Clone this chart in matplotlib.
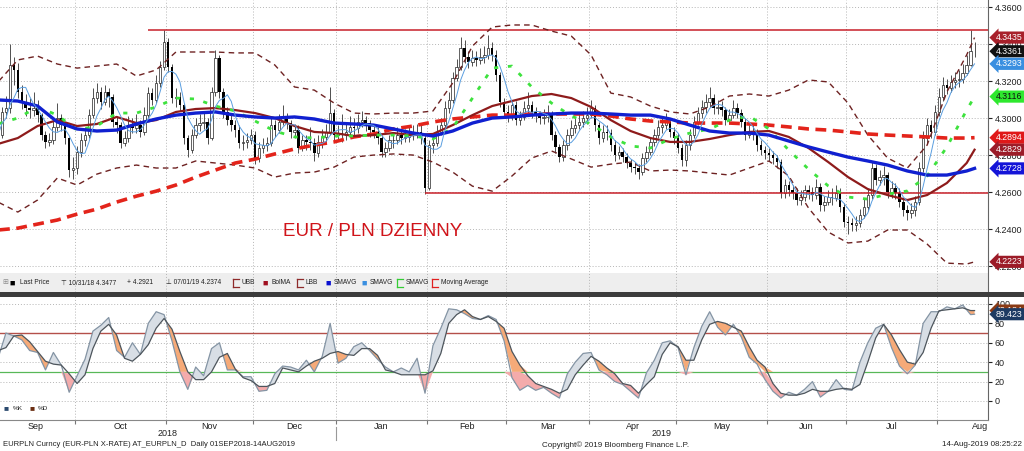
import numpy as np
import pandas as pd
import matplotlib
matplotlib.use('Agg')
import matplotlib.pyplot as plt
import matplotlib.transforms as mtrans
from matplotlib.patches import Rectangle

plt.rcParams['font.family'] = ['Liberation Sans', 'DejaVu Sans']

# EUR/PLN daily, sessions from 3 Sep 2018 to 14 Aug 2019 (one line per month)
close = [
    4.2908, 4.3033, 4.3054, 4.3287, 4.3260, 4.3141, 4.3087, 4.3054, 4.3043, 4.3054, 4.3016, 4.2908, 4.2871, 4.2881, 4.2952, 4.3000, 4.2962, 4.2892, 4.2719, 4.2730,
    4.2816, 4.2881, 4.2908, 4.3016, 4.3108, 4.3141, 4.3087, 4.3141, 4.3114, 4.2979, 4.2962, 4.2865, 4.2892, 4.2962, 4.2946, 4.2962, 4.2925, 4.3016, 4.3135, 4.3098, 4.3189, 4.3276, 4.3411,
    4.3276, 4.3108, 4.3114, 4.3070, 4.2892, 4.2827, 4.2908, 4.2962, 4.2973, 4.2979, 4.2892, 4.3141, 4.3325, 4.3141, 4.3033, 4.2989, 4.2962, 4.2935, 4.2865, 4.2871, 4.2881, 4.2908,
    4.2784, 4.2838, 4.2854, 4.2865, 4.2962, 4.2935, 4.2979, 4.3006, 4.2973, 4.2925, 4.2935, 4.2838, 4.2881, 4.2871, 4.2865, 4.2811, 4.2871, 4.2898, 4.2925, 4.3027, 4.2908,
    4.2919, 4.2908, 4.2925, 4.2952, 4.2946, 4.2979, 4.2989, 4.2973, 4.2935, 4.2925, 4.2892, 4.2816, 4.2838, 4.2881, 4.2881, 4.2908, 4.2892, 4.2898, 4.2908, 4.2919, 4.2925, 4.2892, 4.2622,
    4.2854, 4.2865, 4.2925, 4.2962, 4.3054, 4.3098, 4.3216, 4.3276, 4.3379, 4.3330, 4.3303, 4.3325, 4.3314, 4.3330, 4.3341, 4.3379, 4.3341, 4.3233, 4.3087, 4.3033,
    4.3016, 4.3070, 4.2989, 4.3006, 4.3054, 4.3070, 4.3033, 4.3016, 4.3000, 4.3006, 4.3027, 4.2908, 4.2844, 4.2789, 4.2854, 4.2908, 4.2946, 4.2962, 4.2979, 4.3000, 4.3016,
    4.3054, 4.2962, 4.2892, 4.2925, 4.2919, 4.2854, 4.2800, 4.2816, 4.2789, 4.2757, 4.2735, 4.2730, 4.2708, 4.2784, 4.2816, 4.2871, 4.2908, 4.2952, 4.2962, 4.2979, 4.2925, 4.2892,
    4.2838, 4.2773, 4.2854, 4.2908, 4.2979, 4.3027, 4.3060, 4.3087, 4.3108, 4.3054, 4.3060, 4.3043, 4.2989, 4.3016, 4.3054, 4.3027, 4.2979, 4.2908, 4.2925, 4.2919, 4.2854, 4.2827, 4.2811,
    4.2800, 4.2784, 4.2762, 4.2595, 4.2638, 4.2611, 4.2595, 4.2557, 4.2573, 4.2611, 4.2600, 4.2584, 4.2627, 4.2530, 4.2546, 4.2573, 4.2568, 4.2595, 4.2519, 4.2438,
    4.2433, 4.2422, 4.2433, 4.2476, 4.2519, 4.2584, 4.2730, 4.2665, 4.2681, 4.2692, 4.2600, 4.2622, 4.2595, 4.2546, 4.2503, 4.2487, 4.2503, 4.2546, 4.2730, 4.2892, 4.2962, 4.2925, 4.3033,
    4.3114, 4.3179, 4.3162, 4.3195, 4.3206, 4.3210, 4.3245, 4.3285, 4.3364, 4.3361,
]
high = [
    4.309, 4.306, 4.312, 4.340, 4.333, 4.330, 4.318, 4.313, 4.311, 4.314, 4.310, 4.303, 4.293, 4.292, 4.300, 4.308, 4.302, 4.298, 4.290, 4.279,
    4.285, 4.292, 4.295, 4.305, 4.316, 4.319, 4.317, 4.318, 4.316, 4.313, 4.301, 4.298, 4.293, 4.301, 4.300, 4.302, 4.299, 4.306, 4.317, 4.316, 4.323, 4.331, 4.3477,
    4.343, 4.329, 4.316, 4.314, 4.308, 4.291, 4.294, 4.300, 4.302, 4.303, 4.300, 4.317, 4.337, 4.334, 4.316, 4.306, 4.302, 4.299, 4.296, 4.291, 4.292, 4.294,
    4.293, 4.287, 4.289, 4.290, 4.301, 4.299, 4.302, 4.307, 4.303, 4.299, 4.297, 4.296, 4.291, 4.291, 4.295, 4.289, 4.291, 4.294, 4.297, 4.317, 4.305,
    4.296, 4.302, 4.298, 4.301, 4.300, 4.302, 4.304, 4.301, 4.299, 4.297, 4.295, 4.291, 4.287, 4.291, 4.292, 4.295, 4.294, 4.294, 4.295, 4.296, 4.297, 4.296, 4.291,
    4.288, 4.290, 4.296, 4.300, 4.309, 4.314, 4.325, 4.332, 4.344, 4.342, 4.336, 4.337, 4.336, 4.338, 4.339, 4.345, 4.341, 4.337, 4.325, 4.311,
    4.307, 4.310, 4.309, 4.304, 4.309, 4.314, 4.309, 4.306, 4.304, 4.305, 4.307, 4.304, 4.293, 4.286, 4.288, 4.294, 4.299, 4.300, 4.302, 4.304, 4.306,
    4.310, 4.307, 4.298, 4.296, 4.296, 4.294, 4.288, 4.285, 4.284, 4.281, 4.278, 4.276, 4.275, 4.281, 4.285, 4.290, 4.294, 4.299, 4.301, 4.303, 4.300, 4.295,
    4.292, 4.286, 4.288, 4.294, 4.301, 4.306, 4.310, 4.313, 4.317, 4.313, 4.310, 4.309, 4.306, 4.305, 4.310, 4.308, 4.305, 4.300, 4.296, 4.296, 4.294, 4.288, 4.285,
    4.284, 4.282, 4.280, 4.278, 4.267, 4.266, 4.264, 4.262, 4.261, 4.264, 4.264, 4.263, 4.267, 4.265, 4.258, 4.261, 4.262, 4.264, 4.262, 4.254,
    4.247, 4.246, 4.247, 4.251, 4.256, 4.262, 4.276, 4.275, 4.272, 4.274, 4.271, 4.266, 4.265, 4.262, 4.257, 4.253, 4.254, 4.258, 4.276, 4.293, 4.300, 4.299, 4.307,
    4.316, 4.322, 4.321, 4.323, 4.325, 4.326, 4.329, 4.334, 4.3475, 4.341,
]
low = [
    4.288, 4.289, 4.300, 4.303, 4.318, 4.311, 4.305, 4.301, 4.300, 4.301, 4.298, 4.288, 4.284, 4.285, 4.286, 4.293, 4.293, 4.286, 4.268, 4.267,
    4.270, 4.279, 4.285, 4.289, 4.300, 4.308, 4.305, 4.307, 4.306, 4.295, 4.292, 4.284, 4.285, 4.287, 4.292, 4.292, 4.290, 4.291, 4.300, 4.307, 4.308, 4.317, 4.326,
    4.325, 4.308, 4.306, 4.304, 4.286, 4.279, 4.281, 4.289, 4.293, 4.294, 4.286, 4.288, 4.312, 4.311, 4.300, 4.296, 4.293, 4.290, 4.284, 4.283, 4.284, 4.286,
    4.275, 4.276, 4.281, 4.282, 4.285, 4.290, 4.292, 4.296, 4.294, 4.289, 4.289, 4.281, 4.282, 4.283, 4.283, 4.277, 4.279, 4.284, 4.287, 4.291, 4.288,
    4.288, 4.287, 4.288, 4.290, 4.291, 4.292, 4.295, 4.293, 4.290, 4.289, 4.286, 4.279, 4.279, 4.282, 4.284, 4.286, 4.286, 4.287, 4.287, 4.288, 4.289, 4.286, 4.259,
    4.261, 4.281, 4.285, 4.291, 4.295, 4.303, 4.308, 4.320, 4.326, 4.330, 4.327, 4.328, 4.328, 4.329, 4.330, 4.332, 4.331, 4.320, 4.306, 4.300,
    4.298, 4.299, 4.296, 4.296, 4.299, 4.303, 4.300, 4.298, 4.297, 4.297, 4.298, 4.288, 4.281, 4.276, 4.277, 4.283, 4.289, 4.292, 4.294, 4.295, 4.297,
    4.300, 4.293, 4.286, 4.287, 4.288, 4.282, 4.277, 4.278, 4.276, 4.273, 4.271, 4.270, 4.267, 4.269, 4.276, 4.280, 4.285, 4.289, 4.292, 4.294, 4.290, 4.286,
    4.281, 4.274, 4.274, 4.283, 4.289, 4.296, 4.300, 4.303, 4.306, 4.302, 4.302, 4.301, 4.296, 4.297, 4.300, 4.300, 4.295, 4.288, 4.289, 4.288, 4.282, 4.280, 4.278,
    4.277, 4.275, 4.273, 4.257, 4.257, 4.258, 4.256, 4.253, 4.253, 4.255, 4.256, 4.255, 4.256, 4.250, 4.250, 4.253, 4.253, 4.255, 4.249, 4.241,
    4.2374, 4.239, 4.239, 4.241, 4.246, 4.250, 4.256, 4.264, 4.264, 4.264, 4.257, 4.257, 4.256, 4.252, 4.247, 4.245, 4.246, 4.247, 4.253, 4.271, 4.286, 4.289, 4.291,
    4.301, 4.309, 4.313, 4.314, 4.316, 4.317, 4.319, 4.323, 4.328, 4.333,
]
first_open = 4.3054

# indicator lines read every 5th session (+ the last one)
ind_day = list(range(0, 250, 5)) + [247]
ubb = [4.3195, 4.3314, 4.3335, 4.3292, 4.3270, 4.3281, 4.3292, 4.3227, 4.3260, 4.3357,
       4.3357, 4.3357, 4.3352, 4.3352, 4.3287, 4.3168, 4.3151, 4.3081, 4.3027, 4.3022,
       4.3027, 4.3027, 4.3038, 4.3189, 4.3389, 4.3492, 4.3503, 4.3503, 4.3470, 4.3443,
       4.3341, 4.3135, 4.3114, 4.3065, 4.3033, 4.3022, 4.3060, 4.3119, 4.3130, 4.3119,
       4.3151, 4.3206, 4.3195, 4.3081, 4.2908, 4.2784, 4.2730, 4.2854, 4.3141, 4.3341, 4.3435]
bolma = [4.2860, 4.2892, 4.2957, 4.2989, 4.2957, 4.2968, 4.3006, 4.2973, 4.2989, 4.3033,
         4.3049, 4.3054, 4.3043, 4.3027, 4.3000, 4.2957, 4.2925, 4.2919, 4.2903, 4.2908,
         4.2919, 4.2908, 4.2914, 4.2962, 4.3016, 4.3065, 4.3092, 4.3119, 4.3130, 4.3108,
         4.3060, 4.2989, 4.2930, 4.2892, 4.2871, 4.2871, 4.2887, 4.2908, 4.2925, 4.2930,
         4.2898, 4.2838, 4.2762, 4.2681, 4.2616, 4.2584, 4.2557, 4.2584, 4.2649, 4.2757, 4.2829]
lbb = [4.2546, 4.2492, 4.2557, 4.2676, 4.2638, 4.2697, 4.2730, 4.2746, 4.2730, 4.2730,
       4.2768, 4.2757, 4.2746, 4.2730, 4.2681, 4.2703, 4.2708, 4.2735, 4.2789, 4.2800,
       4.2806, 4.2800, 4.2762, 4.2708, 4.2632, 4.2605, 4.2687, 4.2784, 4.2822, 4.2779,
       4.2735, 4.2751, 4.2762, 4.2714, 4.2719, 4.2714, 4.2703, 4.2692, 4.2730, 4.2768,
       4.2687, 4.2514, 4.2384, 4.2325, 4.2335, 4.2395, 4.2395, 4.2319, 4.2216, 4.2211, 4.2223]
smavg_blue = [4.3098, 4.3092, 4.3065, 4.2979, 4.2941, 4.2930, 4.2935, 4.2968, 4.2995, 4.3016,
              4.3027, 4.3033, 4.3016, 4.3006, 4.3000, 4.3006, 4.2995, 4.2973, 4.2968, 4.2962,
              4.2941, 4.2919, 4.2903, 4.2930, 4.2973, 4.3000, 4.3006, 4.3016, 4.3022, 4.3027,
              4.3027, 4.3022, 4.3016, 4.3016, 4.2995, 4.2962, 4.2930, 4.2919, 4.2919, 4.2908,
              4.2876, 4.2844, 4.2816, 4.2789, 4.2768, 4.2746, 4.2714, 4.2692, 4.2692, 4.2714, 4.2728]
smavg_green = [4.2968, 4.3000, 4.3060, 4.3016, 4.2935, 4.2957, 4.3027, 4.3027, 4.3060, 4.3108,
               4.3103, 4.3065, 4.3038, 4.2984, 4.2930, 4.2898, 4.2892, 4.2903, 4.2903, 4.2908,
               4.2908, 4.2903, 4.2887, 4.2946, 4.3108, 4.3270, 4.3281, 4.3168, 4.3081, 4.3011,
               4.2968, 4.2898, 4.2849, 4.2838, 4.2887, 4.2919, 4.2941, 4.2989, 4.3011, 4.2941,
               4.2827, 4.2724, 4.2633, 4.2573, 4.2562, 4.2589, 4.2606, 4.2687, 4.2844, 4.3043, 4.3116]
mov_avg = [4.2395, 4.2405, 4.2427, 4.2449, 4.2481, 4.2508, 4.2546, 4.2578, 4.2605, 4.2638,
           4.2681, 4.2719, 4.2757, 4.2778, 4.2806, 4.2833, 4.2854, 4.2871, 4.2898, 4.2914,
           4.2941, 4.2957, 4.2979, 4.2995, 4.3006, 4.3016, 4.3016, 4.3022, 4.3022, 4.3022,
           4.3022, 4.3011, 4.2995, 4.2984, 4.2979, 4.2973, 4.2973, 4.2973, 4.2968, 4.2962,
           4.2952, 4.2941, 4.2935, 4.2925, 4.2914, 4.2908, 4.2903, 4.2898, 4.2892, 4.2892, 4.2894]

# stochastics read every 2nd session (+ the last one)
stoch_day = list(range(0, 247, 2)) + [247]
pct_k = [44, 70, 67, 63, 52, 50, 32, 50, 37, 9,
         26, 43, 72, 78, 86, 52, 45, 60, 48, 80,
         92, 89, 62, 30, 12, 35, 26, 54, 60, 32,
         32, 25, 25, 10, 11, 28, 36, 35, 32, 42,
         30, 46, 80, 39, 44, 56, 60, 52, 43, 35,
         30, 34, 30, 44, 8, 57, 75, 95, 94, 90,
         85, 84, 88, 84, 62, 24, 11, 16, 11, 14,
         8, 3, 28, 40, 49, 50, 32, 27, 20, 17,
         10, 3, 29, 42, 60, 62, 55, 27, 55, 77,
         92, 76, 68, 79, 66, 45, 38, 22, 10, 3,
         9, 6, 12, 20, 4, 10, 22, 12, 11, 40,
         60, 75, 79, 55, 36, 28, 37, 80, 92, 92,
         97, 95, 99, 89, 89.423]
pct_d = [52, 55, 67, 68, 61, 51, 41, 38, 37, 28,
         18, 27, 54, 72, 79, 68, 44, 41, 48, 58,
         75, 85, 74, 51, 30, 22, 22, 30, 45, 49,
         33, 24, 21, 15, 15, 18, 34, 32, 30, 36,
         41, 44, 49, 51, 48, 47, 54, 54, 47, 32,
         30, 27, 27, 27, 27, 31, 49, 80, 89, 94,
         87, 84, 87, 82, 75, 51, 37, 26, 18, 15,
         12, 8, 12, 27, 37, 46, 41, 34, 28, 18,
         16, 8, 17, 25, 48, 60, 56, 42, 42, 63,
         79, 82, 80, 76, 72, 56, 42, 35, 18, 8,
         6, 6, 8, 12, 10, 10, 12, 13, 12, 17,
         40, 65, 79, 68, 53, 40, 38, 50, 75, 93,
         94, 95, 96, 93.2, 93.184]

# drawn support / resistance levels (level, first session)
resist = (4.3477, 38)
support = (4.2595, 108)

W, H = 1024, 451
fig = plt.figure(figsize=(W / 100, H / 100), dpi=100)
ax = fig.add_axes([0, 1 - 292 / H, 988 / W, 292 / H])
sx = fig.add_axes([0, 1 - 420 / H, 988 / W, 124 / H])

n = len(close)
dates = pd.bdate_range('2018-09-03', periods=n)
x = np.arange(n)
c = np.array(close)
o = np.r_[first_open, c[:-1]]
XL, XR = 0.5, 250.4

# month boundaries and label centres
starts = [i for i in range(n) if i == 0 or dates[i].month != dates[i - 1].month]
bounds = [s - 0.5 for s in starts[1:]]
centers, mlabels = [], []
for s in starts:
    d0 = dates[s]
    full = pd.bdate_range(d0.replace(day=1), d0 + pd.offsets.MonthEnd(0))
    centers.append(s + (len(full) - 1) / 2)
    mlabels.append(d0.strftime('%b'))

grid_kw = dict(color='#b5b5b5', lw=0.7, ls=(0, (1, 2)), zorder=0.5)
price_ticks = [4.22, 4.24, 4.26, 4.28, 4.30, 4.32, 4.34, 4.36]

# ---- price panel
ax.set_xlim(XL, XR)
ax.set_ylim(4.2060, 4.3638)
for b in bounds:
    ax.axvline(b, **grid_kw)
for p in price_ticks:
    ax.axhline(p, **grid_kw)
ax.add_patch(Rectangle((0, 0), 1, 19 / 292, transform=ax.transAxes, fc='#eeeeee', ec='none', zorder=0.2))

up = c >= o
body = c - o
body = np.where(np.abs(body) < 0.0003, np.where(up, 0.0003, -0.0003), body)
ax.vlines(x, low, high, color='#333333', lw=0.6, zorder=2)
ax.bar(x[up], body[up], bottom=o[up], width=0.62, facecolor='white', edgecolor='#222222', lw=0.5, zorder=3)
ax.bar(x[~up], body[~up], bottom=o[~up], width=0.62, color='black', lw=0, zorder=3)

ax.hlines(resist[0], resist[1], XR, color='#c8202a', lw=1.1, zorder=4)
ax.hlines(support[0], support[1], XR, color='#c8202a', lw=1.1, zorder=4)

ax.plot(ind_day, mov_avg, color='#e3241b', lw=2.6, dashes=(3, 1.8), zorder=5)
ax.plot(ind_day, ubb, color='#6e2222', lw=1.0, dashes=(4, 3), zorder=4)
ax.plot(ind_day, lbb, color='#6e2222', lw=1.0, dashes=(4, 3), zorder=4)
ax.plot(ind_day, bolma, color='#8e1b1b', lw=1.6, zorder=5)
ax.plot(ind_day, smavg_green, color='#3ee23e', lw=2.0, dashes=(1.5, 3.5), zorder=5)
ax.plot(ind_day, smavg_blue, color='#1020d0', lw=2.4, zorder=6)
sma5 = pd.Series(c).rolling(5, min_periods=1).mean()
ax.plot(x, sma5, color='#5a9ee0', lw=0.7, zorder=6)

ax.text(373 / 988, 60 / 292, 'EUR / PLN DZIENNY', transform=ax.transAxes, color='#d0141a',
        fontsize=13.5, ha='center', va='center')

ax.yaxis.tick_right()
ax.set_yticks(price_ticks)
ax.set_yticklabels([f'{p:.4f}' for p in price_ticks])
ax.tick_params(axis='y', length=3, labelsize=6.5, colors='#222222', pad=2)
ax.set_xticks([])
for s in ['top', 'left', 'bottom']:
    ax.spines[s].set_visible(False)
ax.spines['right'].set_color('#666666')


def tag(a, val, txt, bg, fg='white'):
    a.text(1.008, val, txt, transform=a.get_yaxis_transform(), fontsize=6.3, color=fg,
           ha='left', va='center', clip_on=False, zorder=10,
           bbox=dict(boxstyle='larrow,pad=0.18', fc=bg, ec='none'))


tag(ax, ubb[-1], f'{ubb[-1]:.4f}', '#a8202a')
tag(ax, c[-1], f'{c[-1]:.4f}', '#111111')
tag(ax, sma5.iloc[-1], f'{sma5.iloc[-1]:.4f}', '#3a8fe0')
tag(ax, smavg_green[-1], f'{smavg_green[-1]:.4f}', '#2ee82e', '#111111')
tag(ax, mov_avg[-1], f'{mov_avg[-1]:.4f}', '#e01818')
tag(ax, bolma[-1], f'{bolma[-1]:.4f}', '#9c1c28')
tag(ax, smavg_blue[-1], f'{smavg_blue[-1]:.4f}', '#1414d8')
tag(ax, lbb[-1], f'{lbb[-1]:.4f}', '#9c1c28')

# legend row
ly = 9 / 292
lfs = 4.8
lkw = dict(transform=ax.transAxes, fontsize=lfs, color='#222222', va='center', ha='left', zorder=8)


def lx(px):
    return px / 988


ax.text(lx(2), ly, '\u229e', fontsize=5, color='#888888', transform=ax.transAxes, va='center', ha='left')
ax.text(lx(9), ly, '\u25a0', fontsize=6.5, color='black', transform=ax.transAxes, va='center', ha='left')
ax.text(lx(20), ly, 'Last Price', **lkw)
ax.text(lx(61), ly, '\u22a4 10/31/18 4.3477', **lkw)
ax.text(lx(127), ly, '+ 4.2921', **lkw)
ax.text(lx(166), ly, '\u22a5 07/01/19 4.2374', **lkw)
items = [(233, 'UBB', '#8e2a2a', 'dash'), (262, 'BolMA', '#a01020', 'box'), (297, 'LBB', '#8e2a2a', 'dash'),
         (325, 'SMAVG', '#0a10d0', 'box'), (361, 'SMAVG', '#3a8fe0', 'box'), (397, 'SMAVG', '#33cc33', 'dash'),
         (432, 'Moving Average', '#e02020', 'dash')]
for px, name, col, kind in items:
    if kind == 'box':
        ax.text(lx(px), ly, '\u25a0', fontsize=6.5, color=col, transform=ax.transAxes, va='center', ha='left')
    else:
        ax.plot([lx(px), lx(px + 6)], [ly + 0.012, ly + 0.012], color=col, lw=0.9, transform=ax.transAxes, clip_on=False)
        ax.plot([lx(px), lx(px + 6)], [ly - 0.012, ly - 0.012], color=col, lw=0.9, transform=ax.transAxes, clip_on=False)
        ax.plot([lx(px), lx(px)], [ly - 0.012, ly + 0.012], color=col, lw=0.9, transform=ax.transAxes, clip_on=False)
    ax.text(lx(px + 9), ly, name, **lkw)

# ---- stochastics panel
sx.set_xlim(XL, XR)
sx.set_ylim(-19.6, 108.2)
for b in bounds:
    sx.axvline(b, **grid_kw)
for v in [0, 20, 40, 60, 80, 100]:
    sx.axhline(v, **grid_kw)
sx.axhline(70, color='#b4504a', lw=1.0, zorder=1)
sx.axhline(30, color='#58b858', lw=0.9, zorder=1)

k = np.array(pct_k, dtype=float)
d = np.array(pct_d, dtype=float)
sd = np.array(stoch_day, dtype=float)
sx.fill_between(sd, k, d, where=k >= d, interpolate=True, color='#d8dee5', lw=0, zorder=1.5)
sx.fill_between(sd, np.maximum(k, 30), np.maximum(d, 30), where=d > k, interpolate=True, color='#f6aa78', lw=0, zorder=1.5)
sx.fill_between(sd, np.minimum(k, 30), np.minimum(d, 30), where=d > k, interpolate=True, color='#f4abab', lw=0, zorder=1.5)
sx.plot(sd, k, color='#8494a4', lw=0.9, zorder=3)
sx.plot(sd, d, color='#4d555c', lw=0.9, zorder=3)

sx.yaxis.tick_right()
sx.set_yticks([0, 20, 40, 60, 80, 100])
sx.tick_params(axis='y', length=3, labelsize=6.5, colors='#222222', pad=2)
sx.set_xticks(bounds)
sx.set_xticklabels([])
sx.set_xticks(centers, minor=True)
sx.set_xticklabels(mlabels, minor=True)
sx.tick_params(axis='x', which='major', length=3, color='#777777')
sx.tick_params(axis='x', which='minor', length=0, labelsize=6.5, colors='#222222', pad=1.5)
for s in ['top', 'left']:
    sx.spines[s].set_visible(False)
sx.spines['right'].set_color('#666666')
sx.spines['bottom'].set_color('#888888')

tag(sx, d[-1], f'{d[-1]:.3f}', '#8a3a14')
tag(sx, k[-1], f'{k[-1]:.3f}', '#1d3b63')

sy = 11 / 124
sx.text(lx(4), sy, '\u25a0', fontsize=6, color='#2b4a6e', transform=sx.transAxes, va='center')
sx.text(lx(13), sy, '%K', fontsize=4.6, color='#222222', transform=sx.transAxes, va='center')
sx.text(lx(29), sy, '\u25a0', fontsize=6, color='#6b2e12', transform=sx.transAxes, va='center')
sx.text(lx(38), sy, '%D', fontsize=4.6, color='#222222', transform=sx.transAxes, va='center')

# year labels under the month names
yt = mtrans.blended_transform_factory(sx.transData, sx.transAxes)
split = bounds[3]
sx.text((XL + split) / 2, -0.105, '2018', transform=yt, fontsize=6.5, ha='center', va='center', color='#222222')
sx.text((split + XR) / 2, -0.105, '2019', transform=yt, fontsize=6.5, ha='center', va='center', color='#222222')
sx.plot([split, split], [-0.06, -0.16], transform=yt, color='#999999', lw=0.8, clip_on=False)

# separator between the panels
fig.add_artist(Rectangle((0, 1 - 296.5 / H), 1, 4.5 / H, transform=fig.transFigure, fc='#3c3c3c', ec='none'))

fy = 1 - 445 / H
fig.text(3 / W, fy, 'EURPLN Curncy (EUR-PLN X-RATE) AT_EURPLN_D  Daily 01SEP2018-14AUG2019', fontsize=5.5, color='#222222', va='center')
fig.text(542 / W, fy, 'Copyright\u00a9 2019 Bloomberg Finance L.P.', fontsize=5.8, color='#222222', va='center')
fig.text(1022 / W, fy, '14-Aug-2019 08:25:22', fontsize=5.8, color='#222222', va='center', ha='right')

fig.savefig('out.png', dpi=100, facecolor='white')
